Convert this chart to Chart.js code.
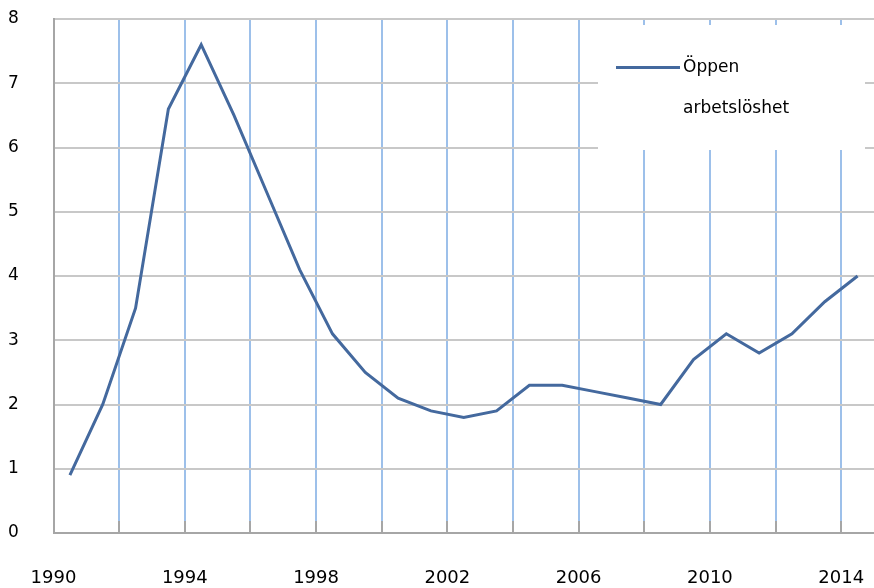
<!DOCTYPE html>
<html>
<head>
<meta charset="utf-8">
<script src="https://cdn.jsdelivr.net/npm/chart.js@4.4.1/dist/chart.umd.min.js"></script>
<style>
  html, body { margin: 0; padding: 0; background: #ffffff; }
  #wrap { width: 874px; height: 588px; position: relative; }
</style>
</head>
<body>
<div id="wrap"><canvas id="c" width="874" height="588"></canvas></div>
<script>
// ---- data ----
const years = [1990, 1991, 1992, 1993, 1994, 1995, 1996, 1997, 1998, 1999,
               2000, 2001, 2002, 2003, 2004, 2005, 2006, 2007, 2008, 2009,
               2010, 2011, 2012, 2013, 2014];
const unemployment = [0.9, 2.0, 3.5, 6.6, 7.6, 6.5, 5.3, 4.1, 3.1, 2.5,
                      2.1, 1.9, 1.8, 1.9, 2.3, 2.3, 2.2, 2.1, 2.0, 2.7,
                      3.1, 2.8, 3.1, 3.6, 4.0];
const seriesLabel = ['Öppen', 'arbetslöshet'];
const yTicks = [0, 1, 2, 3, 4, 5, 6, 7, 8];
const xLabelYears = [1990, 1994, 1998, 2002, 2006, 2010, 2014];

const LINE_COLOR = '#44699e';
const FONT = '"DejaVu Sans", sans-serif';

// each annual value is plotted in the middle of its year
const points = years.map((y, i) => ({ x: y + 0.5, y: unemployment[i] }));

const innerTicks = {
  id: 'innerTicks',
  afterDraw(chart) {
    const { ctx, chartArea, scales } = chart;
    const xs = scales.x;
    ctx.save();
    ctx.strokeStyle = '#a6a6a6';
    ctx.lineWidth = 2;
    xs.ticks.forEach(t => {
      if (t.value <= xs.min || t.value >= xs.max) return;
      const px = Math.round(xs.getPixelForValue(t.value));
      ctx.beginPath();
      ctx.moveTo(px, chartArea.bottom - 12);
      ctx.lineTo(px, chartArea.bottom);
      ctx.stroke();
    });
    ctx.restore();
  }
};

const boxLegend = {
  id: 'boxLegend',
  afterDraw(chart) {
    const { ctx } = chart;
    const ds = chart.data.datasets[0];
    ctx.save();
    ctx.fillStyle = '#ffffff';
    ctx.fillRect(598, 25, 267, 125);
    ctx.strokeStyle = ds.borderColor;
    ctx.lineWidth = 3;
    ctx.beginPath();
    ctx.moveTo(616, 67.5);
    ctx.lineTo(680, 67.5);
    ctx.stroke();
    ctx.fillStyle = '#000000';
    ctx.font = '17px ' + FONT;
    ctx.textBaseline = 'alphabetic';
    ctx.textAlign = 'left';
    ctx.fillText(seriesLabel[0], 683, 72);
    ctx.fillText(seriesLabel[1], 683, 113);
    ctx.restore();
  }
};

new Chart(document.getElementById('c'), {
  type: 'line',
  data: {
    datasets: [{
      label: seriesLabel.join(' '),
      data: points,
      borderColor: LINE_COLOR,
      borderWidth: 3,
      pointRadius: 0,
      tension: 0,
      fill: false
    }]
  },
  options: {
    responsive: false,
    animation: false,
    layout: { padding: { left: 8, top: 19, right: 0, bottom: 0 } },
    plugins: { legend: { display: false }, title: { display: false }, tooltip: { enabled: false } },
    scales: {
      x: {
        type: 'linear',
        min: 1990,
        max: 2015,
        afterFit(s) { s.height = 55; s.paddingLeft = 0; s.paddingRight = 0; },
        border: { display: true, color: '#a6a6a6', width: 2 },
        grid: {
          drawTicks: false,
          lineWidth: 2,
          color: (c) => (c.tick && (c.tick.value === 1990 || c.tick.value === 2015)) ? 'rgba(0,0,0,0)' : '#9dc0ea'
        },
        ticks: {
          stepSize: 2,
          includeBounds: false,
          autoSkip: false,
          maxRotation: 0,
          padding: 35,
          color: '#000',
          font: { family: FONT, size: 18 },
          callback: (v) => xLabelYears.includes(v) ? String(v) : ''
        }
      },
      y: {
        min: yTicks[0],
        max: yTicks[yTicks.length - 1],
        afterFit(s) { s.width = 45.5; s.paddingTop = 0; s.paddingBottom = 0; },
        border: { display: true, color: '#a6a6a6', width: 2 },
        grid: { drawTicks: false, lineWidth: 2, color: '#c8c8c8' },
        ticks: {
          stepSize: 1,
          crossAlign: 'far',
          padding: 0,
          color: '#000',
          font: { family: FONT, size: 17 },
          callback: (v) => yTicks.includes(v) ? String(v) : ''
        }
      }
    }
  },
  plugins: [innerTicks, boxLegend]
});
</script>
</body>
</html>
